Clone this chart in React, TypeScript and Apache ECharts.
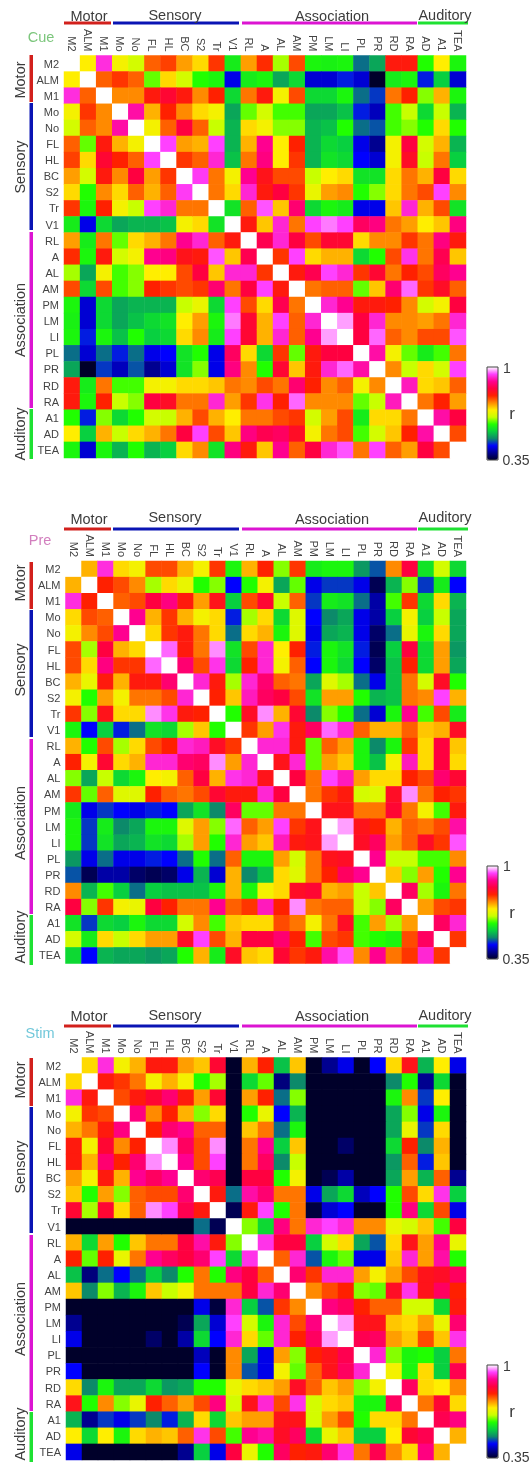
import React, { useEffect, useRef } from "react";
import * as echarts from "echarts";

const regions = ["M2","ALM","M1","Mo","No","FL","HL","BC","S2","Tr","V1","RL","A","AL","AM","PM","LM","LI","PL","PR","RD","RA","A1","AD","TEA"];
const cueColumns = ["M2","ALM","M1","Mo","No","FL","HL","BC","S2","Tr","V1","RL","A","AL","AM","PM","LM","LI","PL","PR","RD","RA","AD","A1","TEA"];
const groups = ["Motor", "Sensory", "Association", "Auditory"];
const panelNames = ["Cue", "Pre", "Stim"];
const colorStops = ["#00002a","#000090","#0000ff","#0c8a6a","#08d040","#20ff00","#c8ff00","#ffee00","#ff8a00","#ff2000","#ff0040","#ff0090","#ff40ff","#ffffff"];

// Upper triangle of each correlation matrix: one row per region, from the cell right of the diagonal
const cueUpper = [
[.70,.935,.69,.66,.77,.785,.74,.71,.79,.58,.74,.795,.64,.78,.59,.585,.59,.49,.52,.81,.81,.60,.70,.59],
[.77,.79,.77,.62,.71,.66,.60,.59,.44,.58,.59,.52,.56,.43,.43,.46,.43,.35,.58,.59,.46,.55,.43],
[.75,.75,.81,.84,.81,.75,.80,.56,.76,.81,.69,.78,.56,.56,.59,.49,.47,.76,.80,.63,.73,.59],
[.91,.73,.80,.75,.71,.69,.52,.62,.66,.61,.61,.52,.52,.54,.46,.42,.61,.65,.56,.65,.53],
[.69,.77,.85,.77,.65,.53,.71,.69,.63,.63,.53,.54,.60,.49,.48,.61,.63,.60,.71,.60],
[.95,.74,.73,.95,.53,.73,.90,.70,.80,.53,.56,.55,.44,.40,.69,.85,.66,.73,.53],
[.79,.77,.93,.54,.76,.89,.70,.79,.53,.57,.56,.45,.43,.69,.83,.65,.76,.55],
[.945,.76,.69,.90,.82,.78,.78,.65,.70,.71,.57,.57,.71,.76,.73,.85,.71],
[.76,.71,.93,.81,.85,.79,.68,.74,.75,.60,.63,.71,.76,.78,.95,.75],
[.57,.77,.955,.72,.88,.56,.59,.58,.44,.44,.72,.93,.73,.78,.57],
[.81,.72,.93,.76,.95,.965,.95,.87,.89,.76,.74,.70,.72,.89],
[.86,.93,.85,.78,.84,.84,.71,.75,.75,.79,.76,.89,.81],
[.79,.95,.71,.73,.73,.56,.60,.78,.94,.76,.86,.72],
[.81,.86,.95,.93,.79,.84,.76,.80,.78,.87,.90],
[.76,.77,.77,.62,.72,.88,.96,.79,.83,.77],
[.93,.90,.81,.81,.80,.75,.66,.69,.85],
[.975,.85,.93,.75,.75,.74,.76,.93],
[.85,.96,.77,.75,.78,.78,.955],
[.91,.69,.62,.58,.61,.76],
[.75,.65,.71,.66,.95],
[.92,.71,.72,.77],
[.76,.80,.74],
[.91,.85],
[.78],
];
const preUpper = [
[.73,.935,.71,.69,.78,.78,.73,.69,.79,.59,.73,.80,.63,.79,.58,.59,.59,.51,.48,.75,.85,.57,.66,.56],
[.80,.78,.75,.64,.71,.68,.60,.63,.45,.60,.69,.52,.62,.44,.47,.47,.44,.37,.53,.63,.47,.58,.45],
[.77,.78,.85,.89,.81,.74,.82,.55,.78,.84,.65,.77,.47,.58,.57,.49,.41,.61,.79,.56,.71,.53],
[.90,.73,.79,.73,.69,.71,.46,.64,.71,.56,.67,.45,.50,.52,.44,.41,.55,.69,.55,.65,.52],
[.71,.79,.81,.76,.71,.49,.71,.73,.59,.67,.44,.52,.53,.44,.38,.49,.68,.59,.71,.52],
[.96,.81,.76,.97,.57,.78,.93,.70,.80,.46,.59,.57,.46,.37,.55,.85,.56,.74,.51],
[.88,.78,.94,.56,.80,.93,.69,.77,.45,.59,.56,.45,.38,.54,.80,.56,.74,.52],
[.93,.81,.64,.93,.88,.77,.76,.52,.67,.64,.49,.44,.54,.76,.66,.83,.60],
[.80,.72,.92,.87,.85,.78,.57,.74,.74,.60,.53,.54,.76,.75,.95,.73],
[.60,.83,.97,.73,.84,.50,.63,.60,.49,.43,.59,.90,.61,.78,.58],
[.79,.74,.94,.81,.87,.96,.93,.77,.73,.73,.77,.72,.73,.83],
[.93,.93,.81,.62,.77,.74,.59,.50,.59,.79,.71,.85,.72],
[.82,.93,.62,.74,.72,.59,.54,.69,.92,.71,.85,.71],
[.85,.76,.95,.92,.74,.71,.71,.80,.78,.88,.84],
[.76,.79,.81,.66,.67,.83,.97,.76,.80,.79],
[.82,.82,.76,.76,.84,.76,.69,.61,.81],
[.975,.82,.80,.73,.77,.76,.78,.91],
[.83,.87,.74,.77,.83,.79,.955],
[.90,.65,.65,.61,.61,.75],
[.72,.63,.74,.60,.90],
[.87,.64,.59,.76],
[.74,.78,.79],
[.87,.93],
[.79],
];
const stimUpper = [
[.71,.935,.69,.73,.81,.81,.74,.72,.84,.35,.73,.80,.54,.72,.35,.40,.44,.35,.45,.71,.82,.53,.70,.44],
[.81,.79,.76,.69,.73,.69,.60,.64,.35,.56,.62,.39,.50,.35,.35,.35,.35,.35,.50,.60,.40,.56,.35],
[.78,.81,.84,.88,.81,.74,.84,.35,.74,.80,.49,.63,.35,.35,.35,.35,.35,.59,.75,.47,.70,.35],
[.89,.75,.80,.73,.63,.71,.35,.60,.68,.45,.53,.35,.35,.35,.35,.35,.52,.63,.44,.59,.35],
[.80,.88,.90,.77,.77,.35,.72,.76,.49,.59,.35,.35,.35,.35,.35,.52,.68,.47,.71,.35],
[.97,.87,.78,.97,.35,.76,.90,.55,.72,.35,.35,.38,.35,.35,.56,.80,.50,.73,.35],
[.90,.78,.95,.35,.76,.87,.50,.65,.35,.35,.35,.35,.35,.51,.77,.46,.72,.35],
[.88,.86,.35,.85,.85,.60,.69,.35,.37,.41,.35,.35,.52,.74,.53,.77,.40],
[.81,.49,.91,.88,.76,.76,.44,.52,.56,.42,.45,.60,.78,.71,.94,.55],
[.37,.81,.95,.60,.76,.36,.43,.45,.35,.35,.60,.89,.56,.78,.44],
[.63,.56,.89,.76,.93,.95,.93,.75,.75,.68,.66,.72,.61,.85],
[.94,.85,.85,.55,.66,.71,.52,.48,.71,.82,.74,.90,.68],
[.77,.93,.48,.59,.62,.44,.44,.72,.93,.74,.91,.60],
[.88,.79,.93,.93,.74,.69,.74,.78,.82,.83,.87],
[.75,.78,.80,.63,.62,.83,.94,.82,.87,.80],
[.89,.87,.80,.77,.77,.66,.66,.56,.81],
[.975,.82,.82,.72,.71,.74,.68,.88],
[.86,.87,.74,.72,.78,.72,.94],
[.93,.63,.59,.60,.55,.76],
[.69,.59,.71,.55,.86],
[.87,.71,.70,.75],
[.76,.84,.71],
[.86,.89],
[.73],
];

function cells(upper: number[][]) {
  const out: number[][] = [];
  regions.forEach((_, i) => {
    out.push([i, i, 1]);
    (upper[i] || []).forEach((v, k) => {
      const j = i + k + 1;
      out.push([j, i, v], [i, j, v]);
    });
  });
  return out;
}

const TEXT = "#3c3c3c";
const FONT = "'Liberation Sans', Arial, sans-serif";

const panels = [
  { upper: cueUpper, columns: cueColumns, x: 64, right: 66, top: 55.5, h: 402.5, labelColor: "#7cc67c", nameY: 37, nameX: 41,
    barY: 23, groupTextY: [16, 15, 16, 15], sideBars: [[55, 102], [103, 230], [232, 408], [409, 459]], sideText: [80, 167, 320, 434],
    cbTop: 367, one: 368, r: 413, low: 460 },
  { upper: preUpper, columns: regions, x: 65.5, right: 66, top: 561, h: 402.5, labelColor: "#d27fbe", nameY: 540, nameX: 40,
    barY: 529, groupTextY: [519, 517, 519, 517], sideBars: [[562, 609], [610, 737], [739, 914], [915, 965]], sideText: [583, 670, 823, 937],
    cbTop: 866, one: 866, r: 912, low: 959 },
  { upper: stimUpper, columns: regions, x: 66, right: 66, top: 1057.5, h: 402.5, labelColor: "#72c8da", nameY: 1033, nameX: 40,
    barY: 1026, groupTextY: [1016, 1015, 1016, 1015], sideBars: [[1058, 1106], [1107, 1233], [1235, 1411], [1412, 1462]], sideText: [1080, 1167, 1319, 1434],
    cbTop: 1365, one: 1366, r: 1411, low: 1457 },
];

const groupColors = ["#d2201c", "#0a14b4", "#dc14d2", "#1ee132"];
const topBars = [[64, 111], [113, 239], [242, 417], [418, 468]];
const groupCentres = [89, 175, 332, 445];

function App() {
  const ref = useRef<HTMLDivElement>(null);
  useEffect(() => {
    const chart = echarts.init(ref.current!, null, { renderer: "svg" });
    const graphic: any[] = [];
    panels.forEach((p, pi) => {
      graphic.push({ type: "text", x: p.nameX, y: p.nameY, style: { text: panelNames[pi], fill: p.labelColor, font: `14.5px ${FONT}`, align: "center", verticalAlign: "middle" } });
      groups.forEach((g, gi) => {
        const [a, b] = topBars[gi];
        graphic.push({ type: "rect", shape: { x: a, y: p.barY - 1.5, width: b - a, height: 3 }, style: { fill: groupColors[gi] } });
        graphic.push({ type: "text", x: groupCentres[gi], y: p.groupTextY[gi], style: { text: g, fill: TEXT, font: `14.5px ${FONT}`, align: "center", verticalAlign: "middle" } });
        const [s, e] = p.sideBars[gi];
        graphic.push({ type: "rect", shape: { x: 29.5, y: s, width: 3.5, height: e - s }, style: { fill: groupColors[gi] } });
        graphic.push({ type: "text", x: 20, y: p.sideText[gi], rotation: Math.PI / 2, style: { text: g, fill: TEXT, font: `14.5px ${FONT}`, align: "center", verticalAlign: "middle" } });
      });
      graphic.push({ type: "rect", shape: { x: 487, y: p.cbTop, width: 11, height: 93 }, style: { fill: "none", stroke: "#444", lineWidth: 1 }, z: 20 });
      graphic.push({ type: "text", x: 507, y: p.one, style: { text: "1", fill: TEXT, font: `14px ${FONT}`, align: "center", verticalAlign: "middle" } });
      graphic.push({ type: "text", x: 512, y: p.r, style: { text: "r", fill: TEXT, font: `17px ${FONT}`, align: "center", verticalAlign: "middle" } });
      graphic.push({ type: "text", x: 516, y: p.low, style: { text: "0.35", fill: TEXT, font: `14px ${FONT}`, align: "center", verticalAlign: "middle" } });
    });
    chart.setOption({
      animation: false,
      backgroundColor: "#ffffff",
      grid: panels.map((p) => ({ left: p.x, top: p.top, width: 532 - p.x - p.right, height: p.h, containLabel: false })),
      xAxis: panels.map((p, i) => ({
        type: "category", gridIndex: i, data: p.columns, position: "top",
        axisLine: { show: false }, axisTick: { show: false }, splitLine: { show: false },
        axisLabel: { interval: 0, rotate: 90, margin: 4, fontSize: 11, color: "#444", fontFamily: FONT },
      })),
      yAxis: panels.map((_, i) => ({
        type: "category", gridIndex: i, data: regions, inverse: true,
        axisLine: { show: false }, axisTick: { show: false }, splitLine: { show: false },
        axisLabel: { interval: 0, margin: 5, fontSize: 11, color: "#444", fontFamily: FONT },
      })),
      visualMap: panels.map((p, i) => ({
        type: "continuous", seriesIndex: i, min: 0.35, max: 1, calculable: false, realtime: false,
        left: 487, top: p.cbTop, itemWidth: 11, itemHeight: 93, padding: 0, text: ["", ""], showLabel: false,
        hoverLink: false, inRange: { color: colorStops }, textStyle: { fontSize: 0 },
      })),
      series: panels.map((p, i) => ({
        type: "heatmap", xAxisIndex: i, yAxisIndex: i, data: cells(p.upper), progressive: 0, silent: true,
        itemStyle: { borderWidth: 0 },
      })),
      graphic: { elements: graphic },
    });
    return () => chart.dispose();
  }, []);
  return <div ref={ref} style={{ position: "absolute", left: 0, top: 0, width: 532, height: 1466, filter: "blur(0.4px)" }} />;
}

export default App;
